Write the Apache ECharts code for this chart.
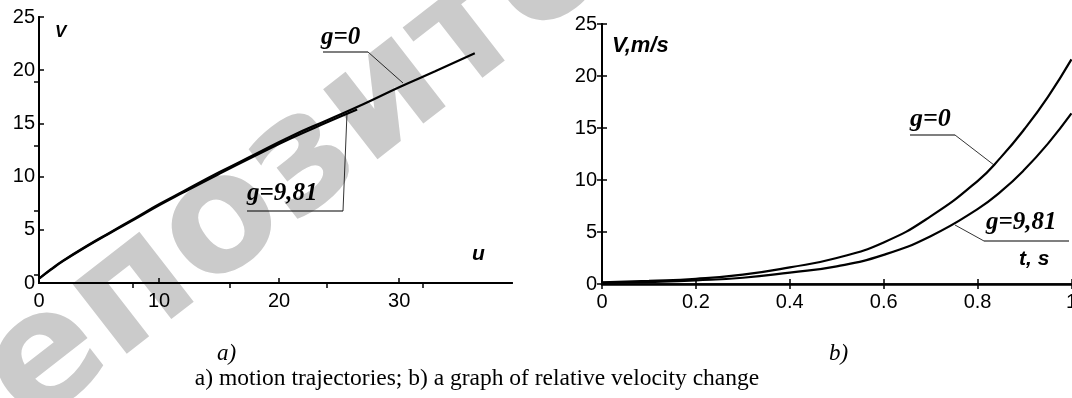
<!DOCTYPE html>
<html>
<head>
<meta charset="utf-8">
<script src="https://cdn.jsdelivr.net/npm/echarts@6/dist/echarts.min.js"></script>
<style>
  html, body { margin: 0; padding: 0; background: #fff; overflow: hidden; }
  #chart { width: 1080px; height: 398px; }
</style>
</head>
<body>
<div id="chart"></div>
<script>
// a) trajectories v(u)
const trajU0 = [0, 1, 2, 4, 6, 8, 10, 12, 15, 18, 21, 24, 27, 30, 33, 36.3];
const trajV0 = [0.4, 1.3, 2.1, 3.5, 4.8, 6.1, 7.4, 8.6, 10.4, 12.1, 13.8, 15.3, 16.8, 18.4, 19.9, 21.6];
const trajU981 = [0, 1, 2, 4, 6, 8, 10, 12, 15, 18, 21, 24, 26.5];
const trajV981 = [0.4, 1.25, 2.05, 3.45, 4.75, 6.0, 7.3, 8.5, 10.25, 11.95, 13.6, 15.1, 16.3];

// b) relative velocity V(t)
const timeT = [0, 0.1, 0.2, 0.3, 0.4, 0.5, 0.6, 0.7, 0.8, 0.85, 0.9, 0.95, 1.0];
const velG0 = [0.15, 0.3, 0.5, 0.9, 1.6, 2.5, 4.0, 6.5, 9.9, 12.2, 14.9, 18.0, 21.6];
const velG981 = [0.1, 0.2, 0.35, 0.6, 1.1, 1.7, 2.8, 4.6, 7.2, 8.9, 11.0, 13.5, 16.4];

// ticks on the top / right frame of panel a)
const topTicksA = [7.83, 15.92, 24, 32];
const rightTicksA = [0.75, 6.8, 12.9, 18.95];

const caption = "a) motion trajectories; b) a graph of relative velocity change";

function pares(xs, ys) {
  return xs.map((x, i) => [x, ys[i]]);
}

const fuenteTicks = { fontFamily: "Liberation Sans", fontSize: 20, color: "#000" };
const tickDentro = { inside: true, length: 5, lineStyle: { color: "#000", width: 1.5 } };

const dom = document.getElementById("chart");
const myChart = echarts.init(dom, null, { renderer: "canvas" });

const serif = "Liberation Serif";
const sans = "Liberation Sans";

function texto(x, y, txt, fuente, size, extra) {
  return {
    type: "text", x: x, y: y, z: 100,
    style: Object.assign({ text: txt, fontFamily: fuente, fontSize: size, fill: "#000" }, extra || {})
  };
}
function segmento(x1, y1, x2, y2, w) {
  return { type: "line", z: 100, shape: { x1: x1, y1: y1, x2: x2, y2: y2 }, style: { stroke: "#000", lineWidth: w || 1 } };
}

const negCursiva = { fontWeight: "bold", fontStyle: "italic" };

const option = {
  animation: false,
  backgroundColor: "#fff",
  grid: [
    { left: 39, top: 17, width: 473, height: 266 },
    { left: 602, top: 24, width: 471, height: 260 }
  ],
  xAxis: [
    {
      type: "value", gridIndex: 0, min: 0, max: 39.4, interval: 10,
      axisLine: { lineStyle: { color: "#000", width: 2 } },
      axisTick: tickDentro,
      axisLabel: Object.assign({ margin: 8, showMaxLabel: false }, fuenteTicks),
      splitLine: { show: false }
    },
    {
      type: "value", gridIndex: 0, position: "top", min: 0, max: 39.4,
      axisLine: { lineStyle: { color: "#000", width: 2 } },
      axisTick: Object.assign({ customValues: topTicksA }, tickDentro),
      axisLabel: { show: false },
      splitLine: { show: false }
    },
    {
      type: "value", gridIndex: 1, min: 0, max: 1, interval: 0.2,
      axisLine: { lineStyle: { color: "#000", width: 2.5 } },
      axisTick: tickDentro,
      axisLabel: Object.assign({ margin: 8, formatter: (v) => String(Math.round(v * 10) / 10) }, fuenteTicks),
      splitLine: { show: false }
    },
    {
      type: "value", gridIndex: 1, position: "top", min: 0, max: 1, interval: 0.2,
      axisLine: { lineStyle: { color: "#000", width: 1.5 } },
      axisTick: tickDentro,
      axisLabel: { show: false },
      splitLine: { show: false }
    }
  ],
  yAxis: [
    {
      type: "value", gridIndex: 0, min: 0, max: 25, interval: 5,
      axisLine: { lineStyle: { color: "#000", width: 2 } },
      axisTick: tickDentro,
      axisLabel: Object.assign({ margin: 4 }, fuenteTicks),
      splitLine: { show: false }
    },
    {
      type: "value", gridIndex: 0, position: "right", min: 0, max: 25,
      axisLine: { lineStyle: { color: "#000", width: 2 } },
      axisTick: Object.assign({ customValues: rightTicksA }, tickDentro),
      axisLabel: { show: false },
      splitLine: { show: false }
    },
    {
      type: "value", gridIndex: 1, min: 0, max: 25, interval: 5,
      axisLine: { lineStyle: { color: "#000", width: 2 } },
      axisTick: tickDentro,
      axisLabel: Object.assign({ margin: 5 }, fuenteTicks),
      splitLine: { show: false }
    },
    {
      type: "value", gridIndex: 1, position: "right", min: 0, max: 25, interval: 5,
      axisLine: { lineStyle: { color: "#000", width: 2 } },
      axisTick: tickDentro,
      axisLabel: { show: false },
      splitLine: { show: false }
    }
  ],
  series: [
    { name: "g=0 a", type: "line", xAxisIndex: 0, yAxisIndex: 0, data: pares(trajU0, trajV0), smooth: true, showSymbol: false, lineStyle: { color: "#000", width: 2.2 } },
    { name: "g=9,81 a", type: "line", xAxisIndex: 0, yAxisIndex: 0, data: pares(trajU981, trajV981), smooth: true, showSymbol: false, lineStyle: { color: "#000", width: 2.2 } },
    { name: "g=0 b", type: "line", xAxisIndex: 2, yAxisIndex: 2, data: pares(timeT, velG0), smooth: true, showSymbol: false, lineStyle: { color: "#000", width: 2.2 } },
    { name: "g=9,81 b", type: "line", xAxisIndex: 2, yAxisIndex: 2, data: pares(timeT, velG981), smooth: true, showSymbol: false, lineStyle: { color: "#000", width: 2.2 } }
  ],
  graphic: [
    // marca de agua
    {
      type: "text", x: -140, y: 405, rotation: 0.66, z: 0,
      style: { text: "Репозиторий", fontFamily: "DejaVu Sans", fontWeight: "bold", fontSize: 162, fill: "#cbcbcb", textVerticalAlign: "alphabetic", textAlign: "left" }
    },
    // panel a)
    texto(55, 24, "V", sans, 17, negCursiva),
    texto(472, 244, "u", sans, 21, negCursiva),
    texto(321, 25, "g=0", serif, 25, negCursiva),
    segmento(323, 52, 368, 52, 1.2),
    segmento(368, 52, 403, 83, 0.8),
    texto(247, 181, "g=9,81", serif, 25, negCursiva),
    segmento(247, 211, 343, 211, 1.2),
    segmento(343, 211, 347, 113, 0.8),
    // panel b)
    texto(612, 35, "V,m/s", sans, 22, negCursiva),
    texto(910, 106, "g=0", serif, 26, negCursiva),
    segmento(910, 135, 955, 135, 1.2),
    segmento(955, 135, 994, 165, 0.8),
    texto(986, 210, "g=9,81", serif, 25, negCursiva),
    segmento(984, 241, 1069, 241, 1.2),
    segmento(984, 241, 955, 225, 0.8),
    texto(1019, 249, "t, s", sans, 21, negCursiva),
    // rótulos y pie
    texto(217, 342, "a)", serif, 23, { fontStyle: "italic" }),
    texto(829, 342, "b)", serif, 23, { fontStyle: "italic" }),
    texto(477, 379, caption, serif, 23.5, { textAlign: "center", textVerticalAlign: "middle" })
  ]
};

myChart.setOption(option);
window.addEventListener("resize", myChart.resize);
</script>
</body>
</html>
